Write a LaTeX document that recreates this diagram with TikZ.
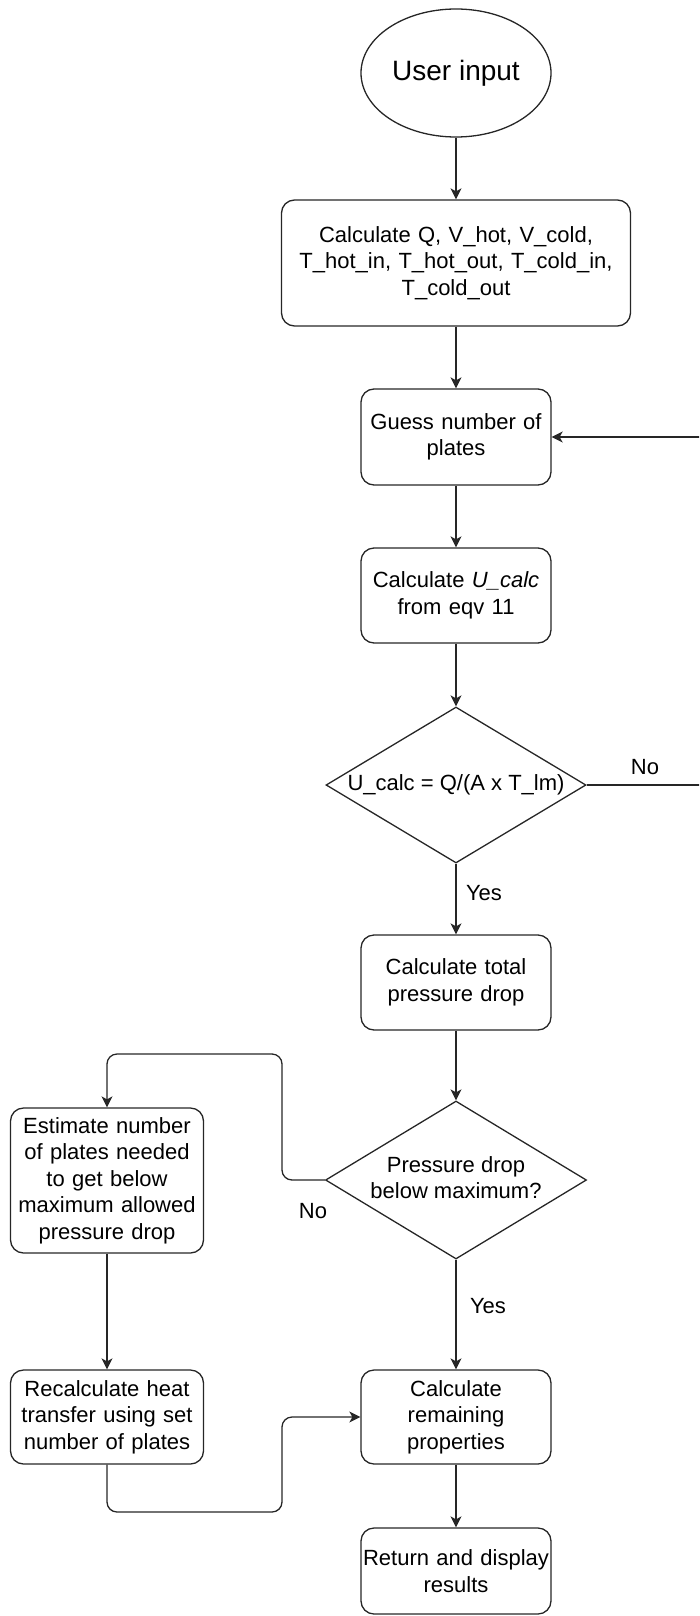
\documentclass[tikz,border=0pt]{standalone}
\usepackage{fontspec}
\setmainfont{Liberation Sans}
\usetikzlibrary{shapes.geometric,arrows.meta}
\newcommand\zwtext[1]{\makebox[0pt]{\begin{tabular}{@{}c@{}}#1\end{tabular}}}
\begin{document}
\begin{tikzpicture}[x=1pt,y=-1pt,
  every node/.style={font=\fontsize{22}{26.4}\selectfont, text=black},
  line/.style={line width=1.3pt, draw=black!85},
  arr/.style={line, -{Stealth[length=11pt,width=11pt,inset=3pt]}},
  proc/.style={draw=black!85, line width=1.3pt, rounded corners=13pt, align=center, inner sep=0pt},
  dec/.style={draw=black!85, diamond, line width=1.3pt, inner sep=0pt},
  lbl/.style={inner sep=0pt}]
\useasboundingbox (0,0) rectangle (699,1616);
\clip (0,0) rectangle (699,1616);

\node[draw=black!85, ellipse, line width=1.3pt, minimum width=190pt, minimum height=128pt, inner sep=0pt, font=\fontsize{28}{33}\selectfont] (start) at (456,73) {User input};
\node[proc, minimum width=349pt, minimum height=126pt, text width=340pt] (calc) at (456,263) {Calculate Q, V\_hot, V\_cold,\\ T\_hot\_in, T\_hot\_out, T\_cold\_in,\\ T\_cold\_out};
\node[proc, minimum width=190pt, minimum height=96pt, text width=184pt] (guess) at (456,437) {Guess number of\\plates};
\node[proc, minimum width=190pt, minimum height=95pt, text width=184pt] (ucalc) at (456,595.5) {Calculate \textit{U\_calc}\\from eqv 11};
\node[dec, minimum width=260pt, minimum height=156pt] (d1) at (456,785) {\zwtext{U\_calc = Q/(A x T\_lm)}};
\node[proc, minimum width=190pt, minimum height=95pt, text width=184pt] (tpd) at (456,982.5) {Calculate total\\pressure drop};
\node[dec, minimum width=261pt, minimum height=158pt] (d2) at (456,1180) {\zwtext{Pressure drop\\below maximum?}};
\node[proc, minimum width=193pt, minimum height=145pt, text width=190pt] (est) at (107,1180.5) {Estimate number\\of plates needed\\to get below\\maximum allowed\\pressure drop};
\node[proc, minimum width=193pt, minimum height=94pt, text width=190pt] (rec) at (107,1417) {Recalculate heat\\transfer using set\\number of plates};
\node[proc, minimum width=190pt, minimum height=94pt, text width=186pt] (rem) at (456,1417) {Calculate\\remaining\\properties};
\node[proc, minimum width=190pt, minimum height=86pt, text width=188pt] (ret) at (456,1571) {Return and display\\results};

\node[lbl] (no1) at (645,767) {No};
\node[lbl] (yes1) at (484,893) {Yes};
\node[lbl] (no2) at (313,1211) {No};
\node[lbl] (yes2) at (488,1306) {Yes};

\draw[arr] (start.south) -- (calc.north);
\draw[arr] (calc.south) -- (guess.north);
\draw[arr] (guess.south) -- (ucalc.north);
\draw[arr] (ucalc.south) -- (d1.north);
\draw[arr] (d1.south) -- (tpd.north);
\draw[arr] (tpd.south) -- (d2.north);
\draw[arr] (d2.south) -- (rem.north);
\draw[arr] (rem.south) -- (ret.north);

\coordinate (r1) at (712,785);
\coordinate (r2) at (712,437);
\draw[arr] (d1.east) -- (r1) -- (r2) -- (guess.east);

\coordinate (l1) at (282,1180);
\coordinate (l2) at (282,1054);
\coordinate (l3) at (107,1054);
\draw[arr, rounded corners=10pt] (d2.west) -- (l1) -- (l2) -- (l3) -- (est.north);

\draw[arr] (est.south) -- (rec.north);

\coordinate (b1) at (107,1512);
\coordinate (b2) at (282,1512);
\coordinate (b3) at (282,1417);
\draw[arr, rounded corners=10pt] (rec.south) -- (b1) -- (b2) -- (b3) -- (rem.west);
\end{tikzpicture}
\end{document}
